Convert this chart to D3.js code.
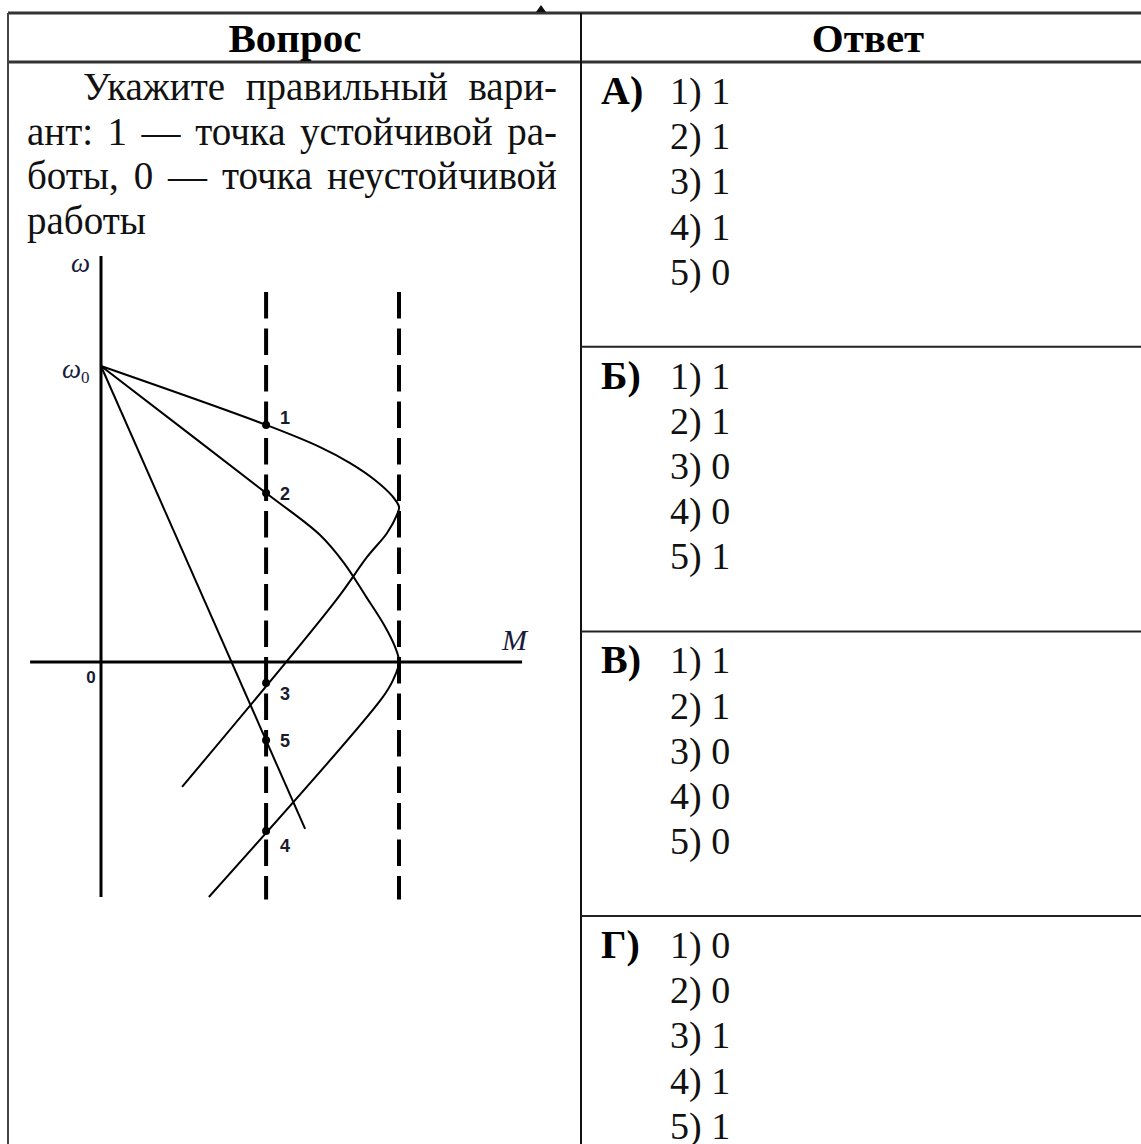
<!DOCTYPE html>
<html>
<head>
<meta charset="utf-8">
<script src="https://cdn.jsdelivr.net/npm/d3@7"></script>
<style>
body{margin:0;background:#fff}
</style>
</head>
<body>
<svg id="chart"></svg>
<script>
const width = 1141
const height = 1144

// table texts
const headers = ['Вопрос', 'Ответ']
const questionLines = ['Укажите правильный вари-', 'ант: 1 — точка устойчивой ра-', 'боты, 0 — точка неустойчивой', 'работы']
const optionLetters = ['А)', 'Б)', 'В)', 'Г)']
const answerA = [1, 1, 1, 1, 0]
const answerB = [1, 1, 0, 0, 1]
const answerV = [1, 1, 0, 0, 0]
const answerG = [0, 0, 1, 1, 1]
const answers = [answerA, answerB, answerV, answerG]

// graph data, relative units: omega0 = 1, critical torque = 1
const mLoad = 0.554
const mCrit = 1
const curveA = [[0, 1], [0.554, 0.801], [0.735, 0.726], [0.836, 0.672], [0.919, 0.615], [0.977, 0.561], [1.0, 0.524],
  [0.993, 0.497], [0.960, 0.436], [0.893, 0.355], [0.789, 0.209], [0.272, -0.422]]
const curveB = [[0, 1], [0.554, 0.571], [0.735, 0.429], [0.815, 0.335], [0.890, 0.220], [0.950, 0.125], [0.985, 0.055],
  [1.0, 0], [0.980, -0.061], [0.943, -0.122], [0.362, -0.794]]
const lineC = [[0, 1], [0.685, -0.564]]
const pointNames = ['1', '2', '3', '5', '4']
const pointOmega = [0.801, 0.571, -0.071, -0.264, -0.571]
const labelShift = [-8, 0, 10, 0, 14]
const mAxisExtent = [-0.238, 1.413]
const wAxisExtent = [-0.794, 1.372]
const dashExtent = [-0.802, 1.25]

const svg = d3.select('#chart')
  .attr('width', width)
  .attr('height', height)
  .style('background', '#fff')
  .style('display', 'block')

const serif = "'Liberation Serif', 'Times New Roman', serif"
const sans = "'Liberation Sans', Arial, sans-serif"

// ---- table grid ----
const table = svg.append('g').attr('class', 'table')
const colLeft = 8, colMid = 581, headTop = 13, headBottom = 62
const rowH = 284.7

table.append('line').attr('x1', colLeft).attr('x2', width).attr('y1', headTop).attr('y2', headTop)
  .attr('stroke', '#333').attr('stroke-width', 3)
table.append('line').attr('x1', colLeft).attr('x2', width).attr('y1', headBottom).attr('y2', headBottom)
  .attr('stroke', '#333').attr('stroke-width', 3)
table.append('line').attr('x1', colLeft).attr('x2', colLeft).attr('y1', headTop).attr('y2', height)
  .attr('stroke', '#444').attr('stroke-width', 2)
table.append('line').attr('x1', colMid).attr('x2', colMid).attr('y1', headTop).attr('y2', height)
  .attr('stroke', '#111').attr('stroke-width', 2)
table.selectAll('.rowsep')
  .data(optionLetters.slice(1))
  .enter().append('line')
  .attr('class', 'rowsep')
  .attr('x1', colMid).attr('x2', width)
  .attr('y1', (d, i) => headBottom + (i + 1) * rowH)
  .attr('y2', (d, i) => headBottom + (i + 1) * rowH)
  .attr('stroke', '#222').attr('stroke-width', 2)

// small cut mark above the table
table.append('path').attr('d', 'M536,12L541,5L546,12Z').attr('fill', '#111')

// headers
table.selectAll('.head')
  .data(headers)
  .enter().append('text')
  .attr('class', 'head')
  .attr('x', (d, i) => i === 0 ? 295 : 868)
  .attr('y', 52)
  .attr('text-anchor', 'middle')
  .attr('font-family', serif)
  .attr('font-weight', 'bold')
  .attr('font-size', 41)
  .text(d => d)

// question text, justified through word spacing
const qx = [83, 27, 27, 27]
const qRight = 557
table.selectAll('.q')
  .data(questionLines)
  .enter().append('text')
  .attr('class', 'q')
  .attr('x', (d, i) => qx[i])
  .attr('y', (d, i) => 100 + i * 44.6)
  .attr('font-family', serif)
  .attr('font-size', 39)
  .attr('fill', '#111')
  .text(d => d)
  .each(function (d, i) {
    if (i === questionLines.length - 1) return
    const natural = this.getComputedTextLength()
    const gaps = d.split(' ').length - 1
    const extra = (qRight - qx[i] - natural) / gaps
    if (extra > -3) d3.select(this).attr('word-spacing', extra)
    else d3.select(this).attr('textLength', qRight - qx[i]).attr('lengthAdjust', 'spacingAndGlyphs')
  })

// answers
const opt = table.selectAll('.opt')
  .data(answers)
  .enter().append('g')
  .attr('class', 'opt')
  .attr('transform', (d, i) => `translate(0,${headBottom + i * rowH})`)

opt.append('text')
  .attr('x', 601)
  .attr('y', 42)
  .attr('font-family', serif)
  .attr('font-weight', 'bold')
  .attr('font-size', 40)
  .text((d, i) => optionLetters[i])

opt.selectAll('.ans')
  .data(d => d)
  .enter().append('text')
  .attr('class', 'ans')
  .attr('x', 670)
  .attr('y', (d, i) => 42 + i * 45.2)
  .attr('font-family', serif)
  .attr('font-size', 38)
  .attr('fill', '#111')
  .text((d, i) => `${i + 1}) ${d}`)

// ---- graph ----
const Xscale = d3.scaleLinear().domain([0, 1]).range([101, 399])
const Yscale = d3.scaleLinear().domain([0, 1]).range([662, 366])

const graph = svg.append('g').attr('class', 'graph')

// axes
graph.append('line')
  .attr('x1', Xscale(mAxisExtent[0])).attr('x2', Xscale(mAxisExtent[1]))
  .attr('y1', Yscale(0)).attr('y2', Yscale(0))
  .attr('stroke', '#000').attr('stroke-width', 3)
graph.append('line')
  .attr('x1', Xscale(0)).attr('x2', Xscale(0))
  .attr('y1', Yscale(wAxisExtent[0])).attr('y2', Yscale(wAxisExtent[1]))
  .attr('stroke', '#000').attr('stroke-width', 3)

// dashed verticals at load torque and critical torque
graph.selectAll('.dash')
  .data([mLoad, mCrit])
  .enter().append('line')
  .attr('class', 'dash')
  .attr('x1', d => Xscale(d)).attr('x2', d => Xscale(d))
  .attr('y1', Yscale(dashExtent[1])).attr('y2', Yscale(dashExtent[0]))
  .attr('stroke', '#000').attr('stroke-width', 4)
  .attr('stroke-dasharray', '26.5,10')

const linePath = d3.line()
  .x(d => Xscale(d[0]))
  .y(d => Yscale(d[1]))
  .curve(d3.curveCatmullRom.alpha(0.5))

graph.selectAll('.char')
  .data([curveA, curveB, lineC])
  .enter().append('path')
  .attr('class', 'char')
  .attr('d', d => linePath(d))
  .attr('fill', 'none')
  .attr('stroke', '#000')
  .attr('stroke-width', 2)

// working points
graph.selectAll('circle')
  .data(pointOmega)
  .enter().append('circle')
  .attr('cx', Xscale(mLoad))
  .attr('cy', d => Yscale(d))
  .attr('r', 4)
  .attr('fill', '#000')

graph.selectAll('.plabel')
  .data(pointOmega)
  .enter().append('text')
  .attr('class', 'plabel')
  .attr('x', Xscale(mLoad) + 14)
  .attr('y', (d, i) => Yscale(d) + labelShift[i] + 7)
  .attr('font-family', sans)
  .attr('font-weight', 'bold')
  .attr('font-size', 18)
  .attr('fill', '#1a1a2e')
  .text((d, i) => pointNames[i])

// axis labels
graph.append('text')
  .attr('x', 91).attr('y', Yscale(0) + 21)
  .attr('text-anchor', 'middle')
  .attr('font-family', sans).attr('font-weight', 'bold').attr('font-size', 17)
  .attr('fill', '#1a1a2e')
  .text('0')

graph.append('text')
  .attr('x', 71).attr('y', Yscale(wAxisExtent[1]) + 16)
  .attr('font-family', serif).attr('font-style', 'italic').attr('font-size', 27)
  .attr('fill', '#1a1a3a')
  .text('ω')

const w0 = graph.append('text')
  .attr('x', 62).attr('y', Yscale(1) + 12)
  .attr('font-family', serif).attr('font-style', 'italic').attr('font-size', 27)
  .attr('fill', '#1a1a3a')
w0.append('tspan').text('ω')
w0.append('tspan').attr('dy', 5).attr('font-size', 17).attr('font-style', 'normal').text('0')

graph.append('text')
  .attr('x', 502).attr('y', Yscale(0) - 12)
  .attr('font-family', serif).attr('font-style', 'italic').attr('font-size', 30)
  .attr('fill', '#1a1a3a')
  .text('M')
</script>
</body>
</html>
